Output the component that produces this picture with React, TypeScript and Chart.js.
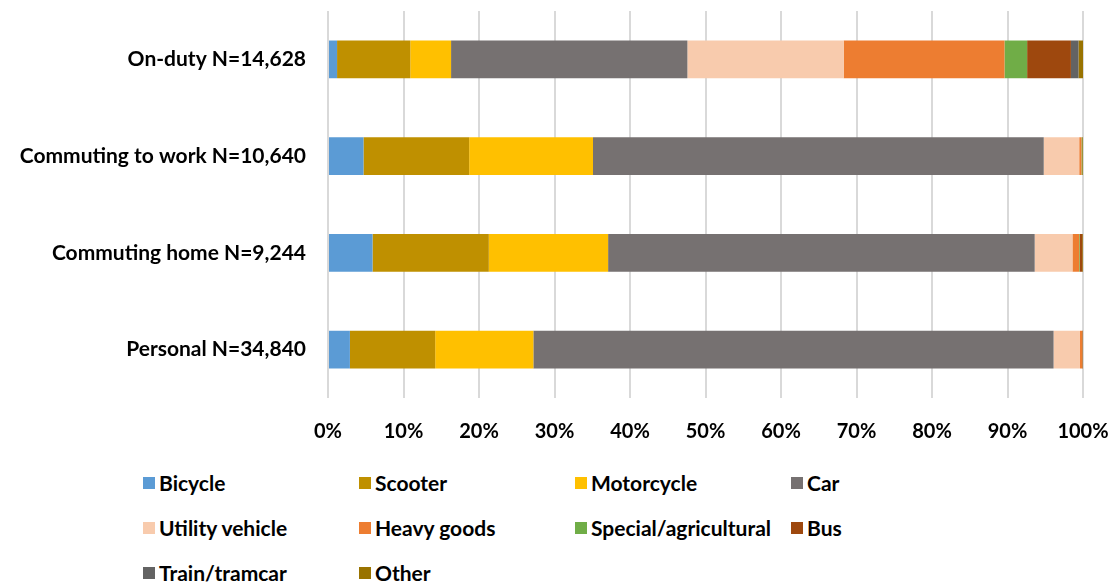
import React, { useEffect, useRef } from "react";
import { Chart, registerables } from "chart.js";

Chart.register(...registerables);

const categories = [
  "On-duty N=14,628",
  "Commuting to work N=10,640",
  "Commuting home N=9,244",
  "Personal N=34,840",
];

const seriesNames = [
  "Bicycle",
  "Scooter",
  "Motorcycle",
  "Car",
  "Utility vehicle",
  "Heavy goods",
  "Special/agricultural",
  "Bus",
  "Train/tramcar",
  "Other",
];

const seriesColors = [
  "#5B9BD5",
  "#BF9000",
  "#FFC000",
  "#767171",
  "#F8CBAD",
  "#ED7D31",
  "#70AD47",
  "#9E480E",
  "#636363",
  "#997300",
];

const bicycle = [1.2, 4.7, 5.9, 2.9];
const scooter = [9.7, 14.0, 15.4, 11.3];
const motorcycle = [5.4, 16.4, 15.8, 13.0];
const car = [31.3, 59.7, 56.5, 68.9];
const utilityVehicle = [20.7, 4.7, 5.0, 3.5];
const heavyGoods = [21.3, 0.3, 0.9, 0.3];
const specialAgricultural = [3.0, 0.1, 0.1, 0.0];
const bus = [5.8, 0.0, 0.3, 0.05];
const trainTramcar = [1.0, 0.0, 0.0, 0.0];
const other = [0.6, 0.1, 0.1, 0.05];

const seriesValues = [
  bicycle,
  scooter,
  motorcycle,
  car,
  utilityVehicle,
  heavyGoods,
  specialAgricultural,
  bus,
  trainTramcar,
  other,
];

const FONT = "Lato, 'Open Sans', sans-serif";

export default function App() {
  const canvasRef = useRef<HTMLCanvasElement | null>(null);

  useEffect(() => {
    if (!canvasRef.current) return;
    const chart = new Chart(canvasRef.current, {
      type: "bar",
      data: {
        labels: categories,
        datasets: seriesNames.map((name, i) => ({
          label: name,
          data: seriesValues[i],
          backgroundColor: seriesColors[i],
          borderWidth: 0,
          barPercentage: 0.39,
          categoryPercentage: 1,
        })),
      },
      options: {
        indexAxis: "y",
        animation: false,
        responsive: true,
        maintainAspectRatio: false,
        layout: { padding: { top: 3, right: 29, left: 0, bottom: 0 } },
        plugins: {
          legend: { display: false },
          tooltip: { enabled: false },
        },
        scales: {
          x: {
            stacked: true,
            min: 0,
            max: 100,
            ticks: {
              stepSize: 10,
              padding: 22,
              color: "#000000",
              font: { family: FONT, size: 20, weight: "bold" },
              callback: (v: any) => v + "%",
            },
            grid: { color: "#d9d9d9", lineWidth: 2, drawTicks: false },
            border: { display: false },
            afterFit: (scale: any) => {
              scale.height = 60;
              scale.paddingLeft = 0;
              scale.paddingRight = 0;
            },
          },
          y: {
            stacked: true,
            ticks: {
              padding: 22,
              color: "#000000",
              font: { family: FONT, size: 21, weight: "bold" },
            },
            grid: { display: false, drawTicks: false },
            border: { display: false },
            afterFit: (scale: any) => {
              scale.width = 320;
              scale.paddingTop = 0;
              scale.paddingBottom = 0;
            },
          },
        },
      },
    });
    return () => chart.destroy();
  }, []);

  return (
    <div style={{ position: "relative", width: 1104, height: 576, fontFamily: FONT }}>
      <div style={{ position: "absolute", left: 0, top: 0, width: 1104, height: 450 }}>
        <canvas ref={canvasRef} />
      </div>
      <div
        style={{
          position: "absolute",
          left: 135,
          top: 452,
          display: "grid",
          gridTemplateColumns: "216px 216px 216px 216px",
          gridAutoRows: "45px",
        }}
      >
        {seriesNames.map((name, i) => (
          <div key={name} style={{ display: "flex", alignItems: "center", whiteSpace: "nowrap" }}>
            <span
              style={{
                display: "inline-block",
                width: 12,
                height: 12,
                background: seriesColors[i],
                marginRight: 4,
              }}
            />
            <span style={{ fontSize: 21, fontWeight: "bold", color: "#000" }}>{name}</span>
          </div>
        ))}
      </div>
    </div>
  );
}
